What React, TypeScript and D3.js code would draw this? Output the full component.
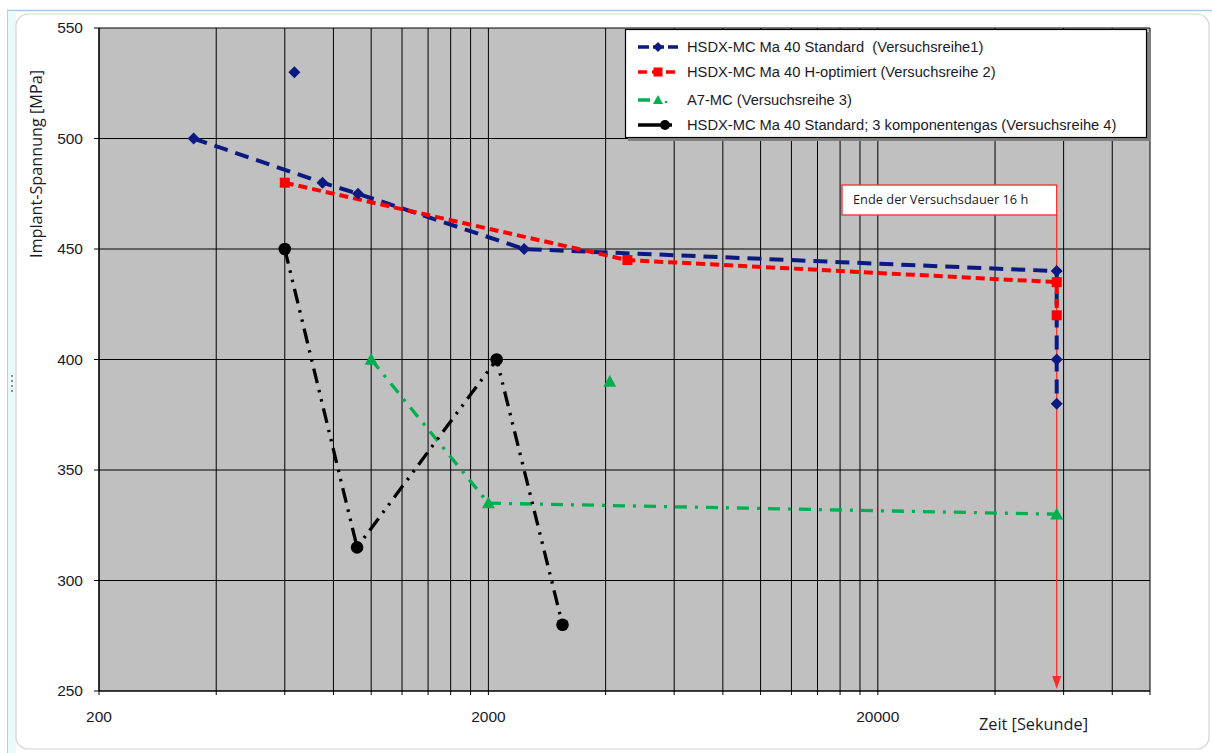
import React from "react";
import * as d3 from "d3";

const W = 1212;
const H = 753;

// Data (time in seconds, stress in MPa)
const s1Time = [350, 750, 925, 2470, 57600, 57600, 57600];
const s1Val = [500, 480, 475, 450, 440, 400, 380];
const s1ExtraTime = [635];
const s1ExtraVal = [530];

const s2Time = [600, 4550, 57600, 57600];
const s2Val = [480, 445, 435, 420];

const s3Time = [1000, 2000, 57600];
const s3Val = [400, 335, 330];
const s3ExtraTime = [4100];
const s3ExtraVal = [390];

const s4Time = [600, 920, 2100, 3100];
const s4Val = [450, 315, 400, 280];

const yTicks = [250, 300, 350, 400, 450, 500, 550];
const xMajor = [200, 2000, 20000];
const xMinorMult = [2, 3, 4, 5, 6, 7, 8, 9];

const legendNames = [
  "HSDX-MC Ma 40 Standard  (Versuchsreihe1)",
  "HSDX-MC Ma 40 H-optimiert (Versuchsreihe 2)",
  "A7-MC (Versuchsreihe 3)",
  "HSDX-MC Ma 40 Standard; 3 komponentengas (Versuchsreihe 4)",
];

const annotationText = "Ende der Versuchsdauer 16 h";
const annotationTime = 57600;

const left = 99, right = 1150, top = 28, bottom = 691;

const x = d3.scaleLog().domain([200, 100000]).range([left, right]);
const y = d3.scaleLinear().domain([250, 550]).range([bottom, top]);

const NAVY = "#0a1a80";
const RED = "#ff0000";
const GREEN = "#00b050";
const BLACK = "#000000";

const lineGen = d3
  .line<[number, number]>()
  .x((d) => x(d[0]))
  .y((d) => y(d[1]));

const zip = (a: number[], b: number[]) => a.map((v, i) => [v, b[i]] as [number, number]);

function Diamond({ cx, cy, s = 6 }: { cx: number; cy: number; s?: number }) {
  return <path d={`M${cx},${cy - s}L${cx + s},${cy}L${cx},${cy + s}L${cx - s},${cy}Z`} fill={NAVY} />;
}
function Square({ cx, cy, s = 5 }: { cx: number; cy: number; s?: number }) {
  return <rect x={cx - s} y={cy - s} width={2 * s} height={2 * s} fill={RED} />;
}
function Tri({ cx, cy, s = 6.5 }: { cx: number; cy: number; s?: number }) {
  return <path d={`M${cx},${cy - s}L${cx + s},${cy + s * 0.8}L${cx - s},${cy + s * 0.8}Z`} fill={GREEN} />;
}
function Circ({ cx, cy, r = 6.3 }: { cx: number; cy: number; r?: number }) {
  return <circle cx={cx} cy={cy} r={r} fill={BLACK} />;
}

export default function App() {
  const gridX: number[] = [];
  xMajor.forEach((m) => {
    gridX.push(m);
    xMinorMult.forEach((k) => {
      const v = m * k;
      if (v <= 100000) gridX.push(v);
    });
  });
  gridX.push(100000);
  const uniq = Array.from(new Set(gridX)).filter((v) => v >= 200 && v <= 100000);

  const s1 = zip(s1Time, s1Val);
  const s2 = zip(s2Time, s2Val);
  const s3 = zip(s3Time, s3Val);
  const s4 = zip(s4Time, s4Val);

  const font = "'Liberation Sans', Arial, sans-serif";
  const ax = x(annotationTime);

  return (
    <svg width={W} height={H} style={{ position: "absolute", left: 0, top: 0 }} fontFamily={font}>
      <rect x={0} y={0} width={W} height={H} fill="#ffffff" />
      {/* Word frame */}
      <line x1={7} y1={10.5} x2={W} y2={10.5} stroke="#a8c8e8" strokeWidth={1.5} />
      <rect x={7} y={11} width={9} height={H} fill="#e8fafc" />
      <line x1={7.5} y1={11} x2={7.5} y2={H} stroke="#b0d4e0" strokeWidth={1} />
      <g fill="#909090">
        {[375, 380, 385, 390].map((yy) => (
          <rect key={yy} x={11} y={yy} width={2} height={2} />
        ))}
      </g>
      <rect x={16} y={14} width={1193} height={735} rx={12} fill="#ffffff" stroke="#d4d4d4" strokeWidth={1.2} />

      {/* plot area */}
      <rect x={left} y={top} width={right - left} height={bottom - top} fill="#c0c0c0" />
      {uniq.map((v) => (
        <line key={"gx" + v} x1={x(v)} x2={x(v)} y1={top} y2={bottom + 4} stroke="#000" strokeWidth={1} />
      ))}
      {yTicks.map((v) => (
        <line key={"gy" + v} x1={left - 5} x2={right} y1={y(v)} y2={y(v)} stroke="#000" strokeWidth={1} />
      ))}
      <line x1={left} x2={left} y1={top} y2={bottom} stroke="#000" strokeWidth={1.2} />
      <line x1={left} x2={right} y1={bottom} y2={bottom} stroke="#000" strokeWidth={1.2} />

      {/* tick labels */}
      {yTicks.map((v) => (
        <text key={"yl" + v} x={83} y={y(v)} dy="0.35em" textAnchor="end" fontSize={15.5} fill="#1a1a2a">
          {v}
        </text>
      ))}
      {xMajor.map((v) => (
        <text key={"xl" + v} x={x(v)} y={717} dy="0.35em" textAnchor="middle" fontSize={15.5} fill="#1a1a2a">
          {v}
        </text>
      ))}

      {/* axis titles */}
      <text
        transform={`translate(42,164) rotate(-90)`}
        textAnchor="middle"
        fontSize={15.5}
        fill="#1a1a2a"
        fontFamily="'Open Sans', 'Noto Sans', sans-serif"
        textLength={188}
        lengthAdjust="spacingAndGlyphs"
      >
        Implant-Spannung [MPa]
      </text>
      <text
        x={979}
        y={725}
        dy="0.35em"
        fontSize={15.5}
        fill="#1a1a2a"
        fontFamily="'Open Sans', 'Noto Sans', sans-serif"
        textLength={109}
        lengthAdjust="spacingAndGlyphs"
      >
        Zeit [Sekunde]
      </text>

      {/* annotation arrow line */}
      <line x1={ax} x2={ax} y1={215} y2={682} stroke="#f03030" strokeWidth={1.3} />
      <path d={`M${ax - 4.5},${676}L${ax + 4.5},${676}L${ax},${689}Z`} fill="#f03030" />

      {/* series lines */}
      <path d={lineGen(s1) || ""} fill="none" stroke={NAVY} strokeWidth={4} strokeDasharray="14 8" />
      <path d={lineGen(s2) || ""} fill="none" stroke={RED} strokeWidth={4} strokeDasharray="9 5" />
      <path d={lineGen(s3) || ""} fill="none" stroke={GREEN} strokeWidth={3.3} strokeDasharray="12 8 3 8" />
      <path d={lineGen(s4) || ""} fill="none" stroke={BLACK} strokeWidth={3.3} strokeDasharray="15 7 2.5 7 2.5 7" />

      {/* markers */}
      {s1.map((d, i) => (
        <Diamond key={"m1" + i} cx={x(d[0])} cy={y(d[1])} />
      ))}
      {s1ExtraTime.map((t, i) => (
        <Diamond key={"m1e" + i} cx={x(t)} cy={y(s1ExtraVal[i])} />
      ))}
      {s2.map((d, i) => (
        <Square key={"m2" + i} cx={x(d[0])} cy={y(d[1])} />
      ))}
      {s3.map((d, i) => (
        <Tri key={"m3" + i} cx={x(d[0])} cy={y(d[1])} />
      ))}
      {s3ExtraTime.map((t, i) => (
        <Tri key={"m3e" + i} cx={x(t)} cy={y(s3ExtraVal[i])} />
      ))}
      {s4.map((d, i) => (
        <Circ key={"m4" + i} cx={x(d[0])} cy={y(d[1])} />
      ))}

      {/* annotation box */}
      <rect x={842} y={185} width={ax - 842} height={30} fill="#ffffff" stroke="#f03030" strokeWidth={1.3} />
      <text x={853} y={200} dy="0.35em" fontSize={12.8} fill="#1a1a2a" fontFamily="'Open Sans', 'Noto Sans', sans-serif">
        {annotationText}
      </text>

      {/* legend */}
      <rect x={628} y={32} width={523} height={109} fill="#808080" />
      <rect x={625.5} y={29.5} width={521} height={108} fill="#ffffff" stroke="#000" strokeWidth={1.2} />
      {legendNames.map((name, i) => {
        const ly = [47, 72, 100, 125][i];
        const x1 = 638, x2 = 678, cx = 658;
        return (
          <g key={"lg" + i}>
            {i === 0 && (
              <>
                <line x1={x1} x2={x2} y1={ly} y2={ly} stroke={NAVY} strokeWidth={3.5} strokeDasharray="11 4" />
                <Diamond cx={cx} cy={ly} s={5} />
              </>
            )}
            {i === 1 && (
              <>
                <line x1={x1} x2={x2} y1={ly} y2={ly} stroke={RED} strokeWidth={3.5} strokeDasharray="9 5" />
                <Square cx={cx} cy={ly} s={4.5} />
              </>
            )}
            {i === 2 && (
              <>
                <line x1={x1} x2={x1 + 12} y1={ly} y2={ly} stroke={GREEN} strokeWidth={3.5} />
                <Tri cx={cx} cy={ly} s={5} />
                <circle cx={666} cy={ly + 2} r={1.3} fill={GREEN} />
              </>
            )}
            {i === 3 && (
              <>
                <line x1={x1} x2={x2 - 6} y1={ly} y2={ly} stroke={BLACK} strokeWidth={3.5} />
                <Circ cx={cx + 7} cy={ly} r={5} />
              </>
            )}
            <text x={687} y={ly} dy="0.35em" fontSize={14.7} fill="#1a1a2a" style={{ whiteSpace: "pre" }}>
              {name}
            </text>
          </g>
        );
      })}
    </svg>
  );
}
